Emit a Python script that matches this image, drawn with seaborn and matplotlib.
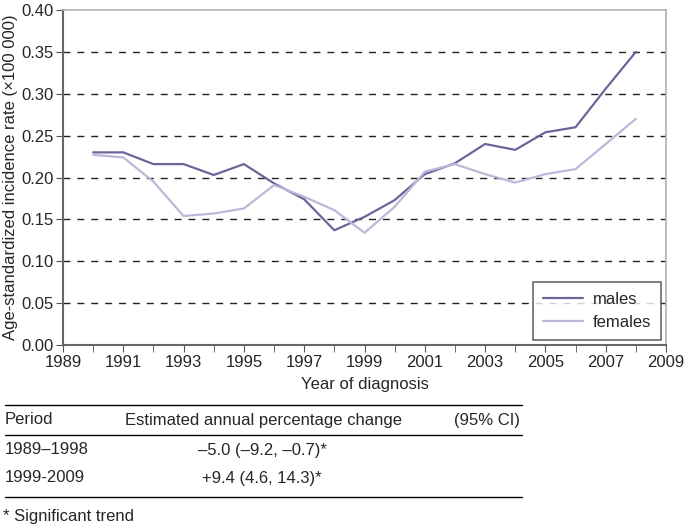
"""
Age-standardized incidence rate by year of diagnosis
"""
import matplotlib
matplotlib.use("Agg")
import matplotlib.pyplot as plt
from matplotlib.lines import Line2D
from matplotlib.ticker import MultipleLocator
import numpy as np
import pandas as pd
import seaborn as sns

# data
years = [1990, 1991, 1992, 1993, 1994, 1995, 1996, 1997, 1998, 1999,
         2000, 2001, 2002, 2003, 2004, 2005, 2006, 2007, 2008]
males = [0.230, 0.230, 0.216, 0.216, 0.203, 0.216, 0.193, 0.174, 0.137, 0.153,
         0.173, 0.204, 0.217, 0.240, 0.233, 0.254, 0.260, 0.306, 0.350]
females = [0.227, 0.224, 0.195, 0.154, 0.157, 0.163, 0.191, 0.177, 0.161, 0.134,
           0.165, 0.207, 0.216, 0.204, 0.194, 0.204, 0.210, 0.240, 0.270]
xtick_years = list(range(1989, 2010, 2))
periods = ["1989\u20131998", "1999-2009"]
apc = ["\u20135.0 (\u20139.2, \u20130.7)*", "+9.4 (4.6, 14.3)*"]

df = pd.DataFrame({"year": years * 2,
                   "rate": males + females,
                   "sex": ["males"] * len(years) + ["females"] * len(years)})

sns.set_style("white")
plt.rcParams["font.family"] = ["Liberation Sans", "DejaVu Sans"]

fig = plt.figure(figsize=(6.85, 5.25), dpi=100)
ax = fig.add_axes([63 / 685, 1 - 345 / 525, 603 / 685, 335 / 525])

sns.lineplot(data=df, x="year", y="rate", hue="sex",
             palette={"males": "#6b6699", "females": "#bcb8d8"},
             linewidth=1.6, ax=ax)

ax.set_xlim(1989, 2009)
ax.set_ylim(0, 0.40)
ax.set_xticks(xtick_years)
ax.set_xticklabels([str(y) for y in xtick_years])
ax.xaxis.set_minor_locator(MultipleLocator(1))
ax.yaxis.set_major_locator(MultipleLocator(0.05))
ax.set_yticklabels(["%.2f" % v for v in ax.get_yticks()])
ax.tick_params(axis="both", which="both", direction="out", length=5,
               color="#555555", labelsize=12, pad=2)
ax.tick_params(axis="x", which="both", bottom=True, top=False)
ax.tick_params(axis="y", left=True, right=False)

# dashed reference lines
for v in np.arange(0.05, 0.40, 0.05):
    ax.axhline(v, color="#222222", linestyle=(0, (5, 5)), linewidth=1.0, zorder=0)

for s in ["left", "bottom"]:
    ax.spines[s].set_color("#666666")
    ax.spines[s].set_linewidth(1.5)
for s in ["top", "right"]:
    ax.spines[s].set_color("#b0b0b0")
    ax.spines[s].set_linewidth(1.2)

ax.set_xlabel("Year of diagnosis", fontsize=12, labelpad=5)
ax.set_ylabel("Age-standardized incidence rate (\u00d7100 000)", fontsize=12, labelpad=2)

leg = ax.legend(loc="lower right", fontsize=12, frameon=True, fancybox=False,
                borderaxespad=0.3, handlelength=2.4, labelspacing=0.5,
                borderpad=0.6, handletextpad=0.6)
leg.get_frame().set_edgecolor("#444444")
leg.get_frame().set_linewidth(1.2)
leg.set_title(None)

# trend table under the chart
def fy(y):
    return 1 - y / 525

def fx(x):
    return x / 685

for y in [405, 435, 497]:
    fig.add_artist(Line2D([fx(5), fx(522)], [fy(y), fy(y)], color="black", linewidth=1.0))

fig.text(fx(5), fy(420), "Period", fontsize=12, va="center")
fig.text(fx(125), fy(420), "Estimated annual percentage change", fontsize=12, va="center")
fig.text(fx(520), fy(420), "(95% CI)", fontsize=12, va="center", ha="right")
for i, (p, a) in enumerate(zip(periods, apc)):
    y = 450 + i * 28
    fig.text(fx(5), fy(y), p, fontsize=12, va="center")
    fig.text(fx(262), fy(y), a, fontsize=12, va="center", ha="center")
fig.text(fx(3), fy(516), "* Significant trend", fontsize=12, va="center")

plt.savefig("out.png", dpi=100)
